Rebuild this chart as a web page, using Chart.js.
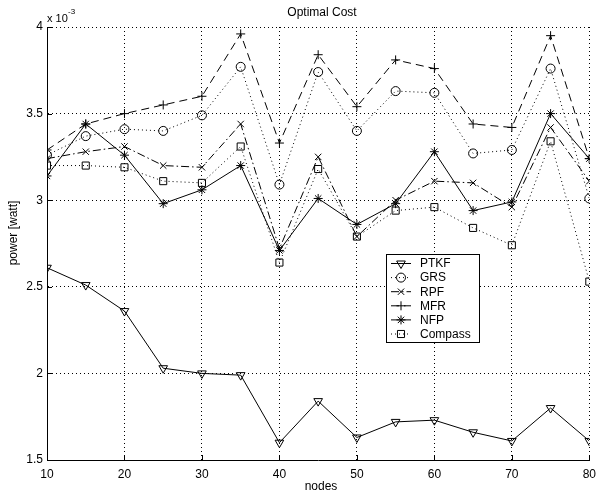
<!DOCTYPE html>
<html>
<head>
<meta charset="utf-8">
<title>Optimal Cost</title>
<script src="https://cdn.jsdelivr.net/npm/chart.js@4/dist/chart.umd.min.js"></script>
<style>
  body { margin: 0; background: #fff; }
  #wrap { width: 603px; height: 495px; }
</style>
</head>
<body>
<div id="wrap"><canvas id="chart" width="603" height="495"></canvas></div>
<script>
// values are in units of 1e-3 watt, as on the axis
const nodes = [10, 15, 20, 25, 30, 35, 40, 45, 50, 55, 60, 65, 70, 75, 80];
const ptkf    = [2.61, 2.51, 2.36, 2.03, 2.00, 1.99, 1.60, 1.84, 1.63, 1.72, 1.73, 1.66, 1.61, 1.80, 1.61];
const grs     = [3.26, 3.37, 3.41, 3.40, 3.49, 3.77, 3.09, 3.74, 3.40, 3.63, 3.62, 3.27, 3.29, 3.76, 3.01];
const rpf     = [3.24, 3.28, 3.31, 3.20, 3.19, 3.44, 2.72, 3.25, 2.79, 3.00, 3.11, 3.10, 2.96, 3.42, 3.11];
const mfr     = [3.29, 3.44, 3.50, 3.55, 3.60, 3.96, 3.33, 3.84, 3.54, 3.81, 3.76, 3.44, 3.42, 3.95, 3.24];
const nfp     = [3.14, 3.44, 3.26, 2.98, 3.06, 3.20, 2.71, 3.01, 2.86, 2.98, 3.28, 2.94, 2.99, 3.50, 3.24];
const compass = [3.20, 3.20, 3.19, 3.11, 3.10, 3.31, 2.64, 3.18, 2.79, 2.94, 2.96, 2.84, 2.74, 3.34, 2.53];

const seriesNames = ['PTKF', 'GRS', 'RPF', 'MFR', 'NFP', 'Compass'];
const xTicks = [10, 20, 30, 40, 50, 60, 70, 80];
const yTicks = [1.5, 2, 2.5, 3, 3.5, 4];

const FONT_FAMILY = '"Liberation Sans", Arial, Helvetica, sans-serif';
const NONE = 'rgba(0,0,0,0)';

function series(label, values, pointStyle, radius, dash, rotation) {
  return {
    label: label,
    data: nodes.map((n, i) => ({ x: n, y: values[i] })),
    borderColor: '#000',
    borderWidth: 1,
    borderDash: dash,
    pointStyle: pointStyle,
    pointRotation: rotation || 0,
    pointRadius: radius,
    pointBorderColor: '#000',
    pointBackgroundColor: NONE,
    pointBorderWidth: 1,
    tension: 0,
    fill: false
  };
}

const datasets = [
  series(seriesNames[0], ptkf, 'triangle', 5, [], 180),
  series(seriesNames[1], grs, 'circle', 4.5, [1, 3]),
  series(seriesNames[2], rpf, 'crossRot', 4.5, [8, 3, 1.5, 3]),
  series(seriesNames[3], mfr, 'cross', 4.5, [8, 5]),
  series(seriesNames[4], nfp, 'star', 4.5, []),
  series(seriesNames[5], compass, 'rect', 5, [1, 3])
];

// matlab style extras: inward ticks, title, axis labels, exponent and legend box
const matlabDecor = {
  id: 'matlabDecor',
  afterDraw(chart) {
    const { ctx, chartArea: a, scales: { x, y } } = chart;
    ctx.save();
    ctx.strokeStyle = '#000';
    ctx.lineWidth = 1;
    ctx.setLineDash([]);
    ctx.beginPath();
    x.ticks.forEach(t => {
      const px = Math.round(x.getPixelForValue(t.value)) + 0.5;
      ctx.moveTo(px, a.bottom);
      ctx.lineTo(px, a.bottom - 5);
    });
    y.ticks.forEach(t => {
      const py = Math.round(y.getPixelForValue(t.value)) + 0.5;
      ctx.moveTo(a.left, py);
      ctx.lineTo(a.left + 5, py);
    });
    ctx.stroke();

    ctx.fillStyle = '#000';
    ctx.font = '12px ' + FONT_FAMILY;
    ctx.textAlign = 'center';
    ctx.textBaseline = 'middle';
    ctx.fillText('Optimal Cost', 322, 13);
    ctx.fillText('nodes', 321, 487);

    ctx.save();
    ctx.translate(14, 233);
    ctx.rotate(-Math.PI / 2);
    ctx.fillText('power [watt]', 0, 0);
    ctx.restore();

    ctx.textAlign = 'left';
    ctx.textBaseline = 'alphabetic';
    ctx.font = '11px ' + FONT_FAMILY;
    ctx.fillText('x 10', 47, 22);
    ctx.font = '8px ' + FONT_FAMILY;
    ctx.fillText('-3', 68, 14);

    // legend
    const lx = 386.5, ly = 254.5, lw = 93, lh = 88;
    ctx.fillStyle = '#fff';
    ctx.fillRect(lx, ly, lw, lh);
    ctx.strokeStyle = '#000';
    ctx.strokeRect(lx, ly, lw, lh);
    ctx.font = '12px ' + FONT_FAMILY;
    ctx.textBaseline = 'middle';
    chart.data.datasets.forEach((ds, i) => {
      const ry = 263.5 + i * 14.1;
      ctx.strokeStyle = '#000';
      ctx.lineWidth = 1;
      ctx.setLineDash(ds.borderDash);
      ctx.beginPath();
      ctx.moveTo(391, ry);
      ctx.lineTo(411, ry);
      ctx.stroke();
      ctx.setLineDash([]);
      ctx.fillStyle = NONE;
      Chart.helpers.drawPoint(ctx, {
        pointStyle: ds.pointStyle,
        rotation: ds.pointRotation,
        radius: ds.pointRadius,
        borderWidth: 1
      }, 401, ry);
      ctx.fillStyle = '#000';
      ctx.fillText(ds.label, 420, ry + 0.5);
    });
    ctx.restore();
  }
};

new Chart(document.getElementById('chart'), {
  type: 'line',
  data: { datasets: datasets },
  options: {
    responsive: false,
    animation: false,
    layout: { padding: { top: 27, right: 6, bottom: 0, left: 0 } },
    plugins: {
      legend: { display: false },
      title: { display: false },
      tooltip: { enabled: false }
    },
    scales: {
      x: {
        type: 'linear',
        min: 10,
        max: 80,
        afterBuildTicks: s => { s.ticks = xTicks.map(v => ({ value: v })); },
        afterFit: s => { s.height = 35; },
        grid: { color: '#000', lineWidth: 1, drawTicks: false },
        border: { display: true, color: '#000', width: 1, dash: [1, 3] },
        ticks: {
          color: '#000',
          padding: 7,
          maxRotation: 0,
          font: { family: FONT_FAMILY, size: 12 },
          callback: v => String(v)
        }
      },
      y: {
        type: 'linear',
        min: 1.5,
        max: 4,
        afterBuildTicks: s => { s.ticks = yTicks.map(v => ({ value: v })); },
        afterFit: s => { s.width = 47; },
        grid: { color: '#000', lineWidth: 1, drawTicks: false },
        border: { display: true, color: '#000', width: 1, dash: [1, 3] },
        ticks: {
          color: '#000',
          padding: 4,
          font: { family: FONT_FAMILY, size: 12 },
          callback: v => String(v)
        }
      }
    }
  },
  plugins: [matlabDecor]
});
</script>
</body>
</html>
